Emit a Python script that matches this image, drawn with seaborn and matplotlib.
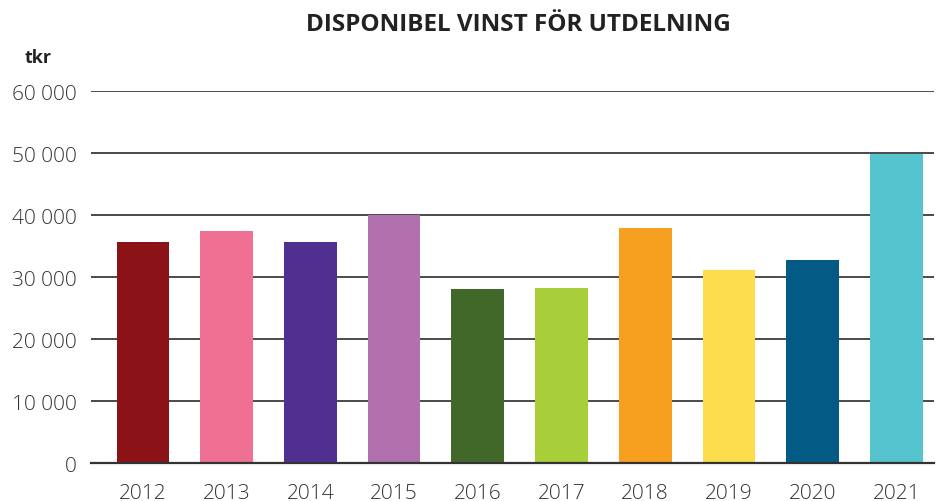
import matplotlib
matplotlib.use('Agg')
import matplotlib.pyplot as plt
import matplotlib.ticker as mticker
import seaborn as sns
import pandas as pd

years = ['2012', '2013', '2014', '2015', '2016', '2017', '2018', '2019', '2020', '2021']
vinst = [35700, 37500, 35700, 40000, 28100, 28300, 38000, 31200, 32800, 49900]
colors = ['#8B1317', '#F07093', '#512F91', '#B171AE', '#426829',
          '#A8CE3A', '#F79F1F', '#FDDD4E', '#035A85', '#55C4CF']

df = pd.DataFrame({'year': years, 'value': vinst})

sns.set_style('white')
plt.rcParams['font.family'] = ['Open Sans', 'DejaVu Sans']

fig = plt.figure(figsize=(9.36, 5.02), dpi=100)
ax = fig.add_axes([91 / 936, 1 - 464.3 / 502, (934 - 91) / 936, (464.3 - 92.3) / 502])

sns.barplot(data=df, x='year', y='value', hue='year', palette=colors,
            legend=False, width=0.63, saturation=1, linewidth=0, ax=ax)

ax.set_ylim(0, 60000)
ax.set_xlim(-0.62, 9.45)
ax.set_yticks(range(0, 60001, 10000))
ax.yaxis.set_major_formatter(mticker.FuncFormatter(lambda v, p: f'{int(v):,}'.replace(',', ' ')))
ax.grid(axis='y', color='#4a4a4a', linewidth=1.4)
ax.set_axisbelow(True)
for s in ['top', 'right', 'left']:
    ax.spines[s].set_visible(False)
ax.spines['bottom'].set_color('#333333')
ax.spines['bottom'].set_linewidth(1.6)
ax.tick_params(axis='both', length=0, labelsize=15, labelcolor='#333333')
ax.tick_params(axis='y', pad=10)
ax.tick_params(axis='x', pad=14)
for lab in ax.get_xticklabels() + ax.get_yticklabels():
    lab.set_fontweight('light')
ax.set_xlabel('')
ax.set_ylabel('')

fig.text(518 / 936, 1 - 25 / 502, 'DISPONIBEL VINST FÖR UTDELNING', ha='center', va='center',
         fontsize=17.5, fontweight='bold', color='#222222')
fig.text(25 / 936, 1 - 58 / 502, 'tkr', ha='left', va='center',
         fontsize=13, fontweight='bold', color='#222222')

fig.savefig('out.png', dpi=100)
